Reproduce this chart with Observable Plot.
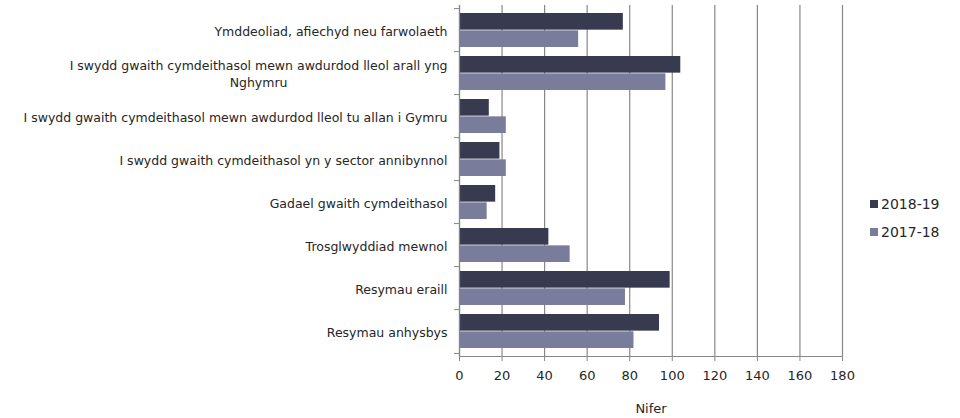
<!DOCTYPE html>
<html>
<head>
<meta charset="utf-8">
<script src="https://cdn.jsdelivr.net/npm/d3@7"></script>
<script src="https://cdn.jsdelivr.net/npm/@observablehq/plot@0.6"></script>
<style>
  html, body { margin: 0; padding: 0; background: #fff; }
  #wrap { position: relative; width: 960px; height: 418px; font-family: "DejaVu Sans", Verdana, sans-serif; }
  #legend { position: absolute; left: 870px; top: 190px; font-size: 14px; color: #262626; }
  #legend .row { display: flex; align-items: center; height: 28px; }
  #legend .sw { width: 8px; height: 8px; margin-right: 3px; }
</style>
</head>
<body>
<div id="wrap"></div>
<script>
const categories = [
  "Ymddeoliad, afiechyd neu farwolaeth",
  "I swydd gwaith cymdeithasol mewn awdurdod lleol arall yng Nghymru",
  "I swydd gwaith cymdeithasol mewn awdurdod lleol tu allan i Gymru",
  "I swydd gwaith cymdeithasol yn y sector annibynnol",
  "Gadael gwaith cymdeithasol",
  "Trosglwyddiad mewnol",
  "Resymau eraill",
  "Resymau anhysbys"
];
const tickLabels = [
  "Ymddeoliad, afiechyd neu farwolaeth",
  "I swydd gwaith cymdeithasol mewn awdurdod lleol arall yng\nNghymru",
  "I swydd gwaith cymdeithasol mewn awdurdod lleol tu allan i Gymru",
  "I swydd gwaith cymdeithasol yn y sector annibynnol",
  "Gadael gwaith cymdeithasol",
  "Trosglwyddiad mewnol",
  "Resymau eraill",
  "Resymau anhysbys"
];
const seriesNames = ["2018-19", "2017-18"];
const values2018 = [77, 104, 14, 19, 17, 42, 99, 94];
const values2017 = [56, 97, 22, 22, 13, 52, 78, 82];
const xTicks = [0, 20, 40, 60, 80, 100, 120, 140, 160, 180];
const seriesColors = ["#383a4f", "#7a7c9c"];

const rows2018 = categories.map((c, i) => ({category: c, series: seriesNames[0], value: values2018[i]}));
const rows2017 = categories.map((c, i) => ({category: c, series: seriesNames[1], value: values2017[i]}));

const W = 960, H = 418, mTop = 5, mBottom = 62, mLeft = 459, mRight = 118;
const step = (H - mTop - mBottom) / categories.length;
const padIn = 0.209;
const bw = step * (1 - padIn);
const axisColor = "#878787";

const chart = Plot.plot({
  width: W, height: H,
  marginLeft: mLeft, marginRight: mRight, marginTop: mTop, marginBottom: mBottom,
  style: {fontFamily: "\"DejaVu Sans\", Verdana, sans-serif", color: "#262626", background: "#fff"},
  x: {domain: [0, 180]},
  y: {domain: categories, paddingInner: padIn, paddingOuter: padIn / 2, align: 0.5},
  marks: [
    Plot.gridX(xTicks, {stroke: axisColor, strokeOpacity: 1, strokeWidth: 1.2}),
    Plot.barX(rows2018, {y: "category", x: "value", fill: seriesColors[0], insetBottom: bw / 2}),
    Plot.barX(rows2017, {y: "category", x: "value", fill: seriesColors[1], insetTop: bw / 2}),
    Plot.ruleX([0], {stroke: axisColor, strokeWidth: 1.2}),
    Plot.ruleY(categories, {y: d => d, x1: 0, x2: 0, insetLeft: -5, dy: -step / 2, stroke: axisColor}),
    Plot.ruleY([categories[categories.length - 1]], {y: d => d, x1: 0, x2: 0, insetLeft: -5, dy: step / 2, stroke: axisColor}),
    Plot.frame({anchor: "bottom", stroke: axisColor, strokeWidth: 1.2}),
    Plot.axisY({tickSize: 0, tickPadding: 12, fontSize: 12.5, lineHeight: 1.35, label: null,
      tickFormat: d => tickLabels[categories.indexOf(d)]}),
    Plot.axisX({ticks: xTicks, tickSize: 5, tickPadding: 9, fontSize: 13, stroke: axisColor,
      label: "Nifer", labelAnchor: "center", labelArrow: "none", labelOffset: 56})
  ]
});

const wrap = document.getElementById("wrap");
wrap.appendChild(chart);

// legend
const legend = document.createElement("div");
legend.id = "legend";
seriesNames.forEach((name, i) => {
  const row = document.createElement("div");
  row.className = "row";
  const sw = document.createElement("div");
  sw.className = "sw";
  sw.style.background = seriesColors[i];
  const tx = document.createElement("span");
  tx.textContent = name;
  row.appendChild(sw); row.appendChild(tx);
  legend.appendChild(row);
});
wrap.appendChild(legend);

// center the wrapped second line under the first
chart.querySelectorAll("text").forEach(t => {
  const spans = t.querySelectorAll("tspan");
  if (spans.length > 1) {
    let maxW = 0;
    spans.forEach(s => { maxW = Math.max(maxW, s.getComputedTextLength()); });
    t.setAttribute("text-anchor", "middle");
    spans.forEach(s => s.setAttribute("x", -maxW / 2));
  }
});
</script>
</body>
</html>
